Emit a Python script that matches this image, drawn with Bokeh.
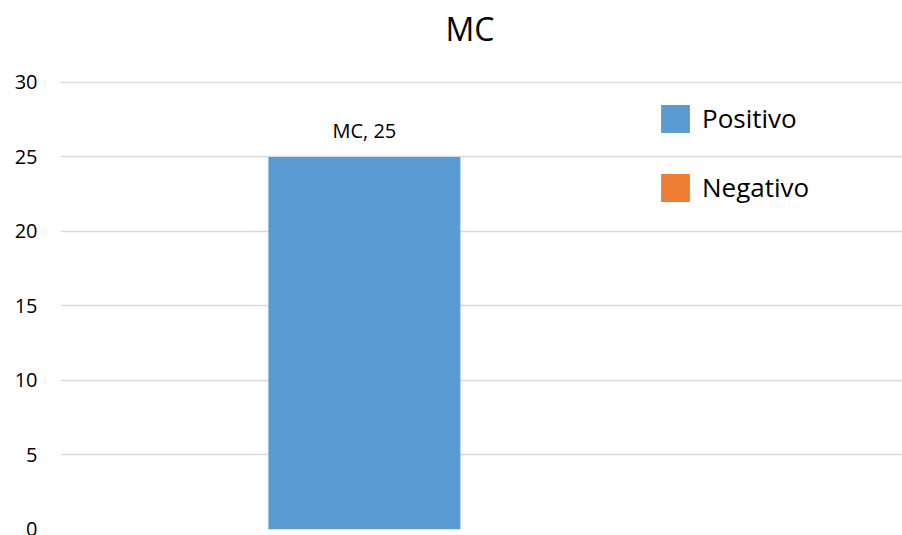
from bokeh.plotting import figure
from bokeh.models import Range1d, FixedTicker, ColumnDataSource, Legend, LegendItem, Label
from bokeh.core.properties import value
from bokeh.embed import file_html
from bokeh.resources import INLINE

# ---- data ----
title_text = "MC"
categories = ["MC"]
series_names = ["Positivo", "Negativo"]
positivo = [25]
negativo = [0]
y_ticks = [0, 5, 10, 15, 20, 25, 30]
colors = ["#5b9bd5", "#ed7d31"]

FONT = "Open Sans"

# frame reaches the top of the figure; gridlines only at the ticks (0..30)
p = figure(width=902, height=535, output_backend="svg", toolbar_location=None, title=None,
           x_range=Range1d(-0.833, 0.921), y_range=Range1d(0, 35.5),
           min_border_left=60, min_border_right=0, min_border_top=0, min_border_bottom=6)
p.outline_line_color = None
p.background_fill_color = "white"
p.border_fill_color = "white"

# chart title, in screen units relative to the frame's bottom-left corner
p.add_layout(Label(x=409.5, y=501, x_units="screen", y_units="screen", text=title_text,
                   text_align="center", text_baseline="alphabetic", text_font=FONT,
                   text_font_size="32px", text_color="#000000"))

p.xaxis.visible = False
p.xgrid.visible = False
p.ygrid.grid_line_color = "#d9d9d9"
p.ygrid.grid_line_width = 1.3
p.yaxis.ticker = FixedTicker(ticks=y_ticks)
p.yaxis.axis_line_color = None
p.yaxis.major_tick_line_color = None
p.yaxis.minor_tick_line_color = None
p.yaxis.major_tick_out = 0
p.yaxis.major_label_standoff = 23
p.yaxis.major_label_text_font = FONT
p.yaxis.major_label_text_font_size = "20px"
p.yaxis.major_label_text_color = "#000000"

bar_w = 0.4
xs = list(range(len(categories)))
src = ColumnDataSource(dict(
    x_pos=[x - bar_w / 2 for x in xs],
    x_neg=[x + bar_w / 2 for x in xs],
    pos=positivo, neg=negativo,
    label=[f"{c}, {v}" for c, v in zip(categories, positivo)],
))

r_pos = p.vbar(x="x_pos", top="pos", width=bar_w, source=src, fill_color=colors[0], line_color=None)
r_neg = p.vbar(x="x_neg", top="neg", width=bar_w, source=src, fill_color=colors[1], line_color=None)

p.text(x="x_pos", y="pos", text="label", source=src, text_align="center",
       text_baseline="alphabetic", y_offset=-26, text_font=value(FONT),
       text_font_size="20px", text_color="#000000")

legend = Legend(items=[LegendItem(label=series_names[0], renderers=[r_pos]),
                       LegendItem(label=series_names[1], renderers=[r_neg])],
                location=(597, 324), orientation="vertical")
legend.glyph_width = 36
legend.glyph_height = 35
legend.label_height = 35
legend.label_standoff = 9
legend.spacing = 33
legend.padding = 0
legend.margin = 0
legend.background_fill_alpha = 0
legend.border_line_color = None
legend.label_text_font = FONT
legend.label_text_font_size = "26px"
legend.label_text_color = "#000000"
p.add_layout(legend, "center")

open("out.html", "w").write(file_html(p, INLINE))
